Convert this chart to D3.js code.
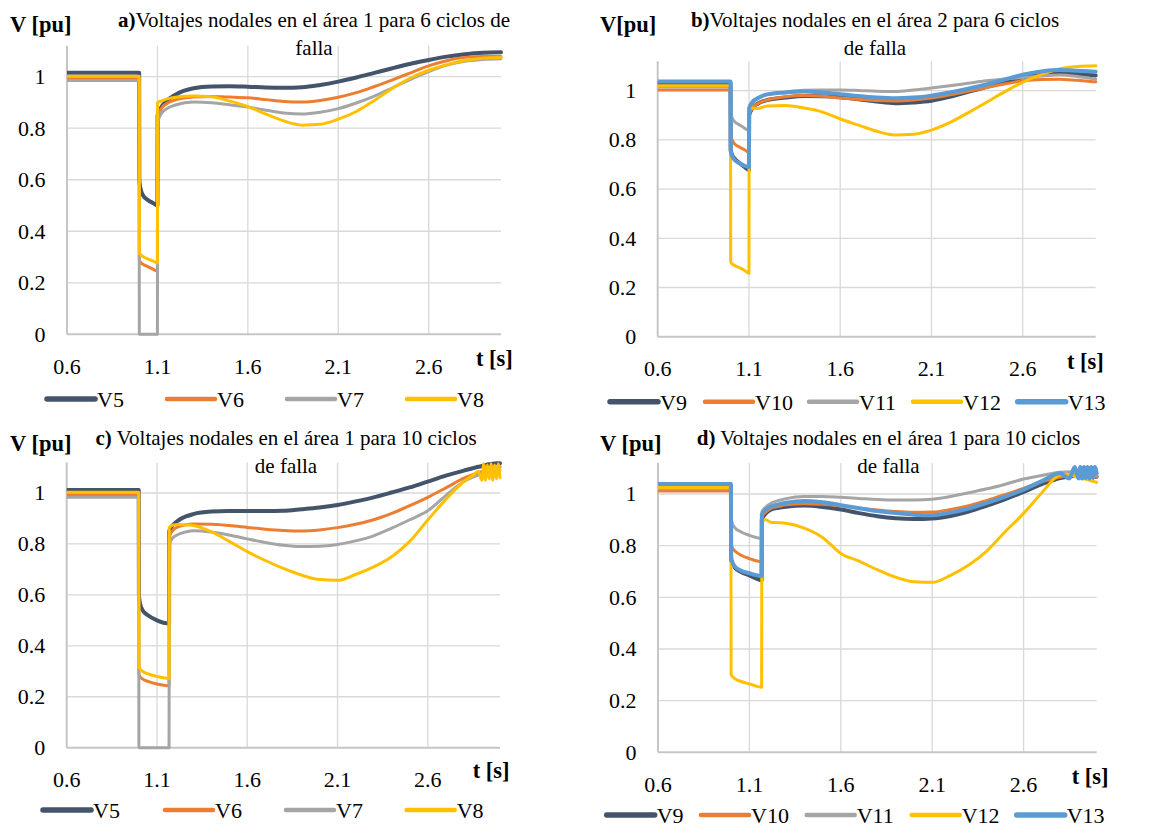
<!DOCTYPE html>
<html><head><meta charset="utf-8">
<script src="https://cdn.jsdelivr.net/npm/d3@7"></script>
</head><body style="margin:0;background:#fff">
<svg id="chart" width="1174" height="828" font-family="Liberation Serif" style="display:block"></svg>
<script>
// ---------- DATA ----------
const xTicks = [0.6, 1.1, 1.6, 2.1, 2.6];
const xTickLabels = ["0.6", "1.1", "1.6", "2.1", "2.6"];
const yTicks = [0, 0.2, 0.4, 0.6, 0.8, 1];
const yTickLabels = ["0", "0.2", "0.4", "0.6", "0.8", "1"];

// time grid for 6-cycle fault panels (a, b)
const t6 = [0.6, 0.999, 1.0, 1.005, 1.02, 1.05, 1.075, 1.1, 1.101, 1.12, 1.15, 1.2,
  1.3, 1.4, 1.5, 1.6, 1.7, 1.8, 1.9, 2.0, 2.1, 2.2, 2.3, 2.4, 2.5, 2.6, 2.7, 2.8, 2.9, 3.0];

// panel a: area 1, 6 cycles
const V5a = [1.015, 1.015, 0.60, 0.57, 0.54, 0.52, 0.51, 0.50, 0.85, 0.88, 0.905, 0.93,
  0.955, 0.962, 0.963, 0.961, 0.958, 0.957, 0.959, 0.968, 0.981, 0.997, 1.015, 1.033, 1.05, 1.065, 1.078, 1.087, 1.093, 1.095];
const V6a = [0.995, 0.995, 0.29, 0.28, 0.272, 0.262, 0.253, 0.245, 0.84, 0.875, 0.895, 0.91,
  0.921, 0.923, 0.921, 0.918, 0.911, 0.904, 0.902, 0.908, 0.92, 0.938, 0.962, 0.988, 1.015, 1.042, 1.062, 1.075, 1.078, 1.078];
const V7a = [0.985, 0.985, 0, 0, 0, 0, 0, 0, 0.82, 0.855, 0.875, 0.89,
  0.902, 0.899, 0.891, 0.882, 0.87, 0.859, 0.855, 0.862, 0.876, 0.898, 0.925, 0.957, 0.99, 1.02, 1.045, 1.06, 1.067, 1.07];
const V8a = [1.002, 1.002, 0.32, 0.31, 0.302, 0.292, 0.285, 0.277, 0.90, 0.905, 0.913, 0.92,
  0.925, 0.922, 0.905, 0.884, 0.855, 0.828, 0.812, 0.815, 0.835, 0.865, 0.908, 0.955, 0.995, 1.025, 1.047, 1.063, 1.072, 1.075];

// panel b: area 2, 6 cycles
const V9b = [1.03, 1.03, 0.76, 0.745, 0.725, 0.705, 0.69, 0.678, 0.90, 0.93, 0.948, 0.962,
  0.972, 0.978, 0.977, 0.973, 0.965, 0.956, 0.949, 0.952, 0.959, 0.975, 0.995, 1.015, 1.035, 1.054, 1.066, 1.073, 1.068, 1.062];
const V10b = [1.003, 1.003, 0.82, 0.805, 0.785, 0.77, 0.76, 0.75, 0.90, 0.93, 0.948, 0.962,
  0.975, 0.98, 0.977, 0.97, 0.965, 0.96, 0.958, 0.962, 0.97, 0.983, 0.998, 1.013, 1.027, 1.04, 1.046, 1.047, 1.042, 1.036];
const V11b = [1.015, 1.015, 0.91, 0.895, 0.875, 0.86, 0.848, 0.838, 0.92, 0.95, 0.97, 0.985,
  0.995, 1.002, 1.003, 1.003, 1.001, 0.998, 0.997, 1.003, 1.011, 1.02, 1.03, 1.04, 1.048, 1.054, 1.06, 1.064, 1.058, 1.047];
const V12b = [1.02, 1.02, 0.305, 0.298, 0.29, 0.28, 0.27, 0.258, 0.93, 0.93, 0.928, 0.938,
  0.94, 0.93, 0.914, 0.885, 0.86, 0.835, 0.82, 0.823, 0.84, 0.87, 0.91, 0.952, 0.995, 1.034, 1.065, 1.088, 1.098, 1.101];
const V13b = [1.037, 1.037, 0.755, 0.74, 0.72, 0.705, 0.695, 0.69, 0.93, 0.955, 0.97, 0.985,
  0.993, 0.997, 0.993, 0.986, 0.978, 0.972, 0.969, 0.972, 0.98, 0.993, 1.008, 1.025, 1.045, 1.065, 1.078, 1.084, 1.081, 1.077];

// time grid for 10-cycle fault panels (c, d)
const t10 = [0.6, 0.999, 1.0, 1.005, 1.02, 1.05, 1.1, 1.167, 1.168, 1.19, 1.22, 1.26,
  1.3, 1.4, 1.5, 1.6, 1.7, 1.8, 1.9, 2.0, 2.1, 2.2, 2.3, 2.4, 2.5, 2.6, 2.7, 2.8, 2.85, 2.88,
  2.9, 2.91, 2.92, 2.93, 2.94, 2.95, 2.96, 2.97, 2.98, 2.99, 3.0];

// panel c: area 1, 10 cycles
const V5c = [1.012, 1.012, 0.60, 0.57, 0.54, 0.52, 0.50, 0.488, 0.85, 0.875, 0.893, 0.908,
  0.917, 0.927, 0.929, 0.929, 0.929, 0.93, 0.936, 0.943, 0.953, 0.967, 0.983, 1.002, 1.022, 1.045, 1.068, 1.088, 1.097, 1.103,
  1.106, 1.108, 1.11, 1.112, 1.113, 1.114, 1.115, 1.116, 1.117, 1.117, 1.117];
const V6c = [0.993, 0.993, 0.29, 0.28, 0.27, 0.26, 0.25, 0.243, 0.83, 0.855, 0.868, 0.875,
  0.878, 0.877, 0.872, 0.865, 0.858, 0.853, 0.851, 0.855, 0.864, 0.877, 0.895, 0.92, 0.95, 0.983, 1.02, 1.058, 1.072, 1.08,
  1.084, 1.086, 1.088, 1.09, 1.092, 1.094, 1.096, 1.098, 1.1, 1.101, 1.103];
const V7c = [0.983, 0.983, 0, 0, 0, 0, 0, 0, 0.80, 0.825, 0.838, 0.847,
  0.852, 0.847, 0.835, 0.82, 0.806, 0.795, 0.79, 0.791, 0.798, 0.812, 0.832, 0.862, 0.895, 0.93, 0.99, 1.045, 1.062, 1.07,
  1.074, 1.076, 1.078, 1.08, 1.082, 1.084, 1.085, 1.086, 1.087, 1.088, 1.09];
const V8c = [1.003, 1.003, 0.318, 0.31, 0.30, 0.29, 0.28, 0.272, 0.865, 0.874, 0.876, 0.875,
  0.872, 0.848, 0.81, 0.77, 0.735, 0.704, 0.678, 0.66, 0.657, 0.68, 0.71, 0.75, 0.81, 0.894, 0.975, 1.045, 1.07, 1.085,
  1.05, 1.115, 1.05, 1.11, 1.055, 1.115, 1.05, 1.11, 1.055, 1.115, 1.06];

// panel d: 10 cycles, buses 9-13
const V9d = [1.03, 1.03, 0.745, 0.735, 0.715, 0.70, 0.685, 0.667, 0.90, 0.925, 0.94, 0.947,
  0.951, 0.955, 0.95, 0.94, 0.926, 0.914, 0.906, 0.903, 0.905, 0.915, 0.932, 0.955, 0.98, 1.008, 1.038, 1.062, 1.068, 1.07,
  1.07, 1.07, 1.07, 1.069, 1.069, 1.068, 1.068, 1.068, 1.067, 1.067, 1.067];
const V10d = [1.012, 1.012, 0.81, 0.795, 0.78, 0.765, 0.75, 0.738, 0.91, 0.93, 0.945, 0.952,
  0.958, 0.962, 0.96, 0.954, 0.946, 0.938, 0.932, 0.929, 0.93, 0.94, 0.955, 0.975, 0.998, 1.022, 1.048, 1.066, 1.07, 1.072,
  1.072, 1.072, 1.071, 1.071, 1.07, 1.07, 1.069, 1.069, 1.068, 1.068, 1.067];
const V11d = [1.02, 1.02, 0.906, 0.89, 0.87, 0.855, 0.84, 0.828, 0.93, 0.95, 0.965, 0.975,
  0.982, 0.99, 0.99, 0.987, 0.983, 0.979, 0.977, 0.977, 0.98, 0.99, 1.005, 1.02, 1.038, 1.058, 1.072, 1.084, 1.086, 1.083,
  1.082, 1.081, 1.08, 1.079, 1.078, 1.077, 1.076, 1.076, 1.075, 1.075, 1.074];
const V12d = [1.025, 1.025, 0.30, 0.295, 0.285, 0.275, 0.265, 0.252, 0.895, 0.90, 0.89, 0.889,
  0.887, 0.868, 0.832, 0.77, 0.74, 0.707, 0.678, 0.66, 0.658, 0.685, 0.725, 0.78, 0.855, 0.925, 1.005, 1.074, 1.076, 1.068,
  1.065, 1.063, 1.061, 1.059, 1.057, 1.055, 1.053, 1.051, 1.049, 1.047, 1.045];
const V13d = [1.039, 1.039, 0.755, 0.74, 0.72, 0.705, 0.693, 0.683, 0.92, 0.94, 0.952, 0.96,
  0.966, 0.973, 0.968, 0.957, 0.945, 0.934, 0.926, 0.92, 0.918, 0.928, 0.944, 0.966, 0.99, 1.017, 1.05, 1.08, 1.06, 1.105,
  1.06, 1.105, 1.06, 1.105, 1.062, 1.105, 1.06, 1.105, 1.062, 1.105, 1.08];

const namesA = ["V5", "V6", "V7", "V8"];
const namesB = ["V9", "V10", "V11", "V12", "V13"];
const colorsA = ["#44546A", "#ED7D31", "#A5A5A5", "#FFC000"];
const colorsB = ["#44546A", "#ED7D31", "#A5A5A5", "#FFC000", "#5B9BD5"];

// ---------- LAYOUT ----------
const FONT = "Liberation Serif";
const panels = [
  { bold: "a)", title1: "Voltajes nodales en el área 1 para 6 ciclos de", title2: "falla", ylab: "V [pu]",
    t: t6, names: namesA, series: [V5a, V6a, V7a, V8a], colors: colorsA, widths: [4, 3, 3, 3],
    l: 67, r: 501, y0: 334.3, y1: 76.7, titleX: 314, titleY: 27, ylabX: 10, ylabY: 32, tlabX: 476, tlabY: 366,
    legY: 399, legX: [47, 167, 287, 407] },
  { bold: "b)", title1: "Voltajes nodales en el área 2 para 6 ciclos", title2: "de falla", ylab: "V[pu]",
    t: t6, names: namesB, series: [V9b, V10b, V11b, V12b, V13b], colors: colorsB, widths: [4, 3, 3, 3, 4],
    l: 657.7, r: 1095.7, y0: 336.7, y1: 90.7, titleX: 875, titleY: 27, ylabX: 600, ylabY: 32, tlabX: 1067, tlabY: 369,
    legY: 401.7, legX: [610, 705, 809, 913, 1017.7] },
  { bold: "c)", title1: " Voltajes nodales en el área 1 para 10 ciclos", title2: "de falla", ylab: "V [pu]",
    t: t10, names: namesA, series: [V5c, V6c, V7c, V8c], colors: colorsA, widths: [4, 3, 3, 3],
    l: 66.7, r: 500, y0: 747.7, y1: 493, titleX: 286, titleY: 445, ylabX: 10, ylabY: 451, tlabX: 472.7, tlabY: 778,
    legY: 810, legX: [43, 165, 286, 406.7] },
  { bold: "d)", title1: " Voltajes nodales en el área 1 para 10 ciclos", title2: "de falla", ylab: "V [pu]",
    t: t10, names: namesB, series: [V9d, V10d, V11d, V12d, V13d], colors: colorsB, widths: [4, 3, 3, 3, 4],
    l: 658, r: 1096.7, y0: 752.3, y1: 494, titleX: 888.5, titleY: 445, ylabX: 600, ylabY: 451, tlabX: 1071.7, tlabY: 784,
    legY: 815, legX: [606.7, 701, 806.7, 911.7, 1016.7] }
];

const svg = d3.select("#chart");
const yMax = 1.12;

panels.forEach((p, pi) => {
  const x = d3.scaleLinear().domain([0.6, 3.0]).range([p.l, p.r]);
  const y = d3.scaleLinear().domain([0, 1]).range([p.y0, p.y1]);
  const top = y(yMax);
  const g = svg.append("g");

  // gridlines
  g.append("g").selectAll("line").data(yTicks.filter(v => v > 0)).join("line")
    .attr("x1", p.l).attr("x2", p.r).attr("y1", d => y(d)).attr("y2", d => y(d))
    .attr("stroke", "#D9D9D9").attr("stroke-width", 1.3);
  g.append("g").selectAll("line").data(xTicks.filter(v => v > 0.6)).join("line")
    .attr("x1", d => x(d)).attr("x2", d => x(d)).attr("y1", top).attr("y2", p.y0)
    .attr("stroke", "#D9D9D9").attr("stroke-width", 1.3);
  // axis lines
  g.append("line").attr("x1", p.l).attr("x2", p.l).attr("y1", top).attr("y2", p.y0)
    .attr("stroke", "#C6C6C6").attr("stroke-width", 2);
  g.append("line").attr("x1", p.l).attr("x2", p.r).attr("y1", p.y0).attr("y2", p.y0)
    .attr("stroke", "#C6C6C6").attr("stroke-width", 2);

  // tick labels
  g.append("g").selectAll("text").data(yTicks).join("text")
    .attr("font-family", FONT)
    .attr("x", p.l - 21.5).attr("y", d => y(d) + 7.3)
    .attr("text-anchor", "end").attr("font-size", 22).text((d, i) => yTickLabels[i]);
  g.append("g").selectAll("text").data(xTicks).join("text")
    .attr("font-family", FONT)
    .attr("x", d => x(d)).attr("y", p.y0 + 39.5)
    .attr("text-anchor", "middle").attr("font-size", 22).text((d, i) => xTickLabels[i]);

  // clip
  const cid = "clip" + pi;
  svg.append("clipPath").attr("id", cid).append("rect")
    .attr("x", p.l).attr("y", top - 4).attr("width", p.r - p.l + 3).attr("height", p.y0 - top + 8);

  const line = d3.line().x(d => x(d[0])).y(d => y(d[1])).curve(d3.curveMonotoneX);
  const lg = g.append("g").attr("clip-path", `url(#${cid})`);
  p.series.forEach((s, si) => {
    const pts = p.t.map((tt, k) => [tt, s[k]]);
    lg.append("path").attr("d", line(pts)).attr("fill", "none")
      .attr("stroke", p.colors[si]).attr("stroke-width", p.widths[si])
      .attr("stroke-linejoin", "round").attr("stroke-linecap", "round");
  });

  // title
  const t1 = g.append("text").attr("font-family", FONT).attr("x", p.titleX).attr("y", p.titleY)
    .attr("text-anchor", "middle").attr("font-size", 21);
  t1.append("tspan").attr("font-weight", "bold").text(p.bold);
  t1.append("tspan").text(p.title1);
  g.append("text").attr("font-family", FONT).attr("x", p.titleX).attr("y", p.titleY + 27.7)
    .attr("text-anchor", "middle").attr("font-size", 21).text(p.title2);

  // axis titles
  g.append("text").attr("font-family", FONT).attr("x", p.ylabX).attr("y", p.ylabY).attr("font-size", 22.5)
    .attr("font-weight", "bold").text(p.ylab);
  g.append("text").attr("font-family", FONT).attr("x", p.tlabX).attr("y", p.tlabY).attr("font-size", 22.5)
    .attr("font-weight", "bold").text("t [s]");

  // legend
  p.names.forEach((n, i) => {
    const lx = p.legX[i];
    g.append("line").attr("x1", lx).attr("x2", lx + 48).attr("y1", p.legY).attr("y2", p.legY)
      .attr("stroke", p.colors[i]).attr("stroke-width", p.widths[i] + 1.5).attr("stroke-linecap", "round");
    g.append("text").attr("font-family", FONT).attr("x", lx + 50).attr("y", p.legY + 8)
      .attr("font-size", 22).text(n);
  });
});
</script>
</body></html>
